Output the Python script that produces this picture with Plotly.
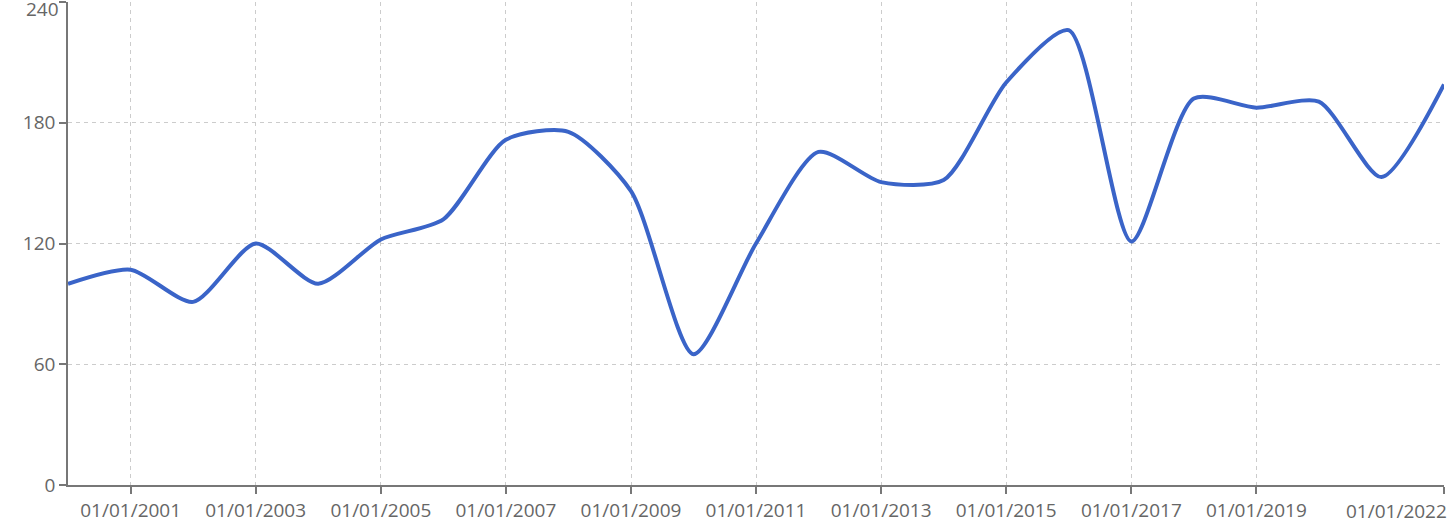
import plotly.graph_objects as go

years = [str(y) + "-01-01" for y in range(2000, 2023)]
values = [100, 107, 91, 120, 100, 122, 132, 171.5, 175.5, 146, 65, 120, 165.5, 150.5, 151.5, 200, 226, 121, 192, 187.5, 190.5, 153, 199]

tick_vals = ["2001-01-01", "2003-01-01", "2005-01-01", "2007-01-01", "2009-01-01", "2011-01-01",
             "2013-01-01", "2015-01-01", "2017-01-01", "2019-01-01", "2022-01-01"]
tick_text = ["01/01/2001", "01/01/2003", "01/01/2005", "01/01/2007", "01/01/2009", "01/01/2011",
             "01/01/2013", "01/01/2015", "01/01/2017", "01/01/2019", "01/01/2022"]
y_ticks = [0, 60, 120, 180, 240]
y_text = ["0", "60", "120", "180", "240"]

FONT = dict(family="Open Sans", size=19, color="#666666")

fig = go.Figure()
fig.add_trace(go.Scatter(
    x=years, y=values, mode="lines",
    line=dict(color="#3a64c8", width=4, shape="spline", smoothing=0.7),
    hoverinfo="x+y", showlegend=False,
))

# last x label is right-aligned to its tick, top y label hangs below its tick
x_labels = tick_text[:-1] + [""]
y_labels = y_text[:-1] + [""]

fig.add_annotation(x=tick_vals[-1], y=0, xref="x", yref="paper", text=tick_text[-1],
                   showarrow=False, xanchor="right", yanchor="top", yshift=-11, xshift=5, font=FONT)
fig.add_annotation(x=0, y=y_ticks[-1], xref="paper", yref="y", text=y_text[-1],
                   showarrow=False, xanchor="right", yanchor="top", xshift=-7, yshift=8, font=FONT)

fig.update_layout(
    width=1455, height=522,
    margin=dict(l=68, r=11, t=2, b=37),
    paper_bgcolor="white", plot_bgcolor="white",
    font=FONT,
    xaxis=dict(
        type="date", range=["2000-01-01", "2022-01-01"],
        tickmode="array", tickvals=tick_vals, ticktext=x_labels,
        showgrid=True, gridcolor="#cccccc", griddash="4px,4px", gridwidth=1,
        showline=True, linecolor="#777777", linewidth=1.5,
        ticks="outside", ticklen=7, tickcolor="#777777", tickwidth=1.5,
        zeroline=False, automargin=False,
    ),
    yaxis=dict(
        range=[0, 240], tickmode="array", tickvals=y_ticks, ticktext=y_labels,
        showgrid=True, gridcolor="#cccccc", griddash="4px,4px", gridwidth=1,
        showline=True, linecolor="#777777", linewidth=1.5,
        ticks="outside", ticklen=7, tickcolor="#777777", tickwidth=1.5,
        zeroline=False, automargin=False,
    ),
)

fig.write_html("out.html", config={"displayModeBar": False},
               post_script="document.body.style.margin='0';")
